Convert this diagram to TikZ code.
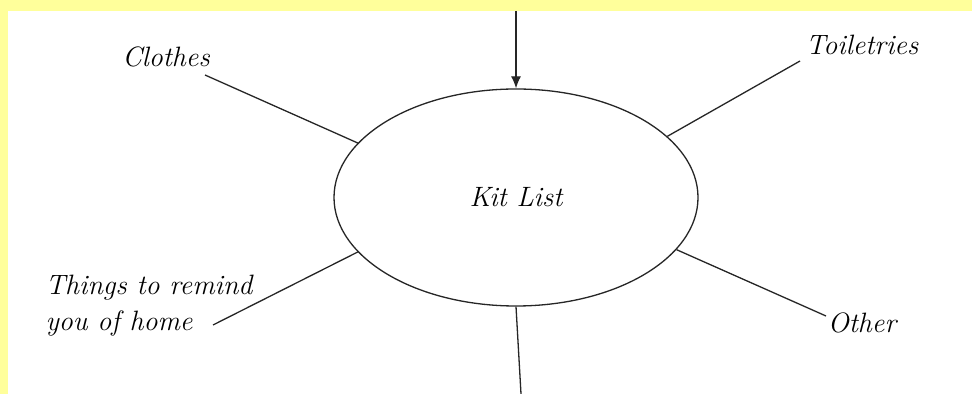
\documentclass[tikz,border=0pt]{standalone}
\usepackage{tikz}
\usetikzlibrary{arrows.meta,shapes.geometric}
\definecolor{Y}{RGB}{255, 255, 155}

\begin{document}
\begin{tikzpicture}[x=0.5pt,y=-0.5pt,
    hand/.style={font=\fontsize{14}{18}\selectfont\itshape},
    spoke/.style={line width=0.65pt, color=black!85}]
    %Fondo amarillo y hoja blanca
    \fill[color=Y] (0,0) rectangle (972,394);
    \fill[color=white] (8,11) rectangle (972,394);
    \useasboundingbox (0,0) rectangle (972,394);

    %Elipse central
    \node[ellipse, draw, spoke, minimum width=182pt, minimum height=108.5pt, hand, text=black] (kit) at (516,197.5) {Kit List\hspace{12pt}};

    %Extremos libres
    \coordinate (top) at (516,11);
    \coordinate (bot) at (521,394);
    \coordinate (clo) at (205,75);
    \coordinate (toi) at (800,61);
    \coordinate (hom) at (213,325);
    \coordinate (oth) at (826,316);

    %Etiquetas
    \node[hand] (clothes) at (166,57) {Clothes};
    \node[hand] (toiletries) at (862,45) {Toiletries};
    \node[hand, align=left] (home) at (149,306) {Things to remind\\you of home};
    \node[hand] (other) at (862,323) {Other};

    %Lineas
    \draw[spoke,-{Latex[length=6pt,width=5pt]}] (top) -- (kit.north);
    \draw[spoke] (kit.south) -- (bot);
    \draw[spoke] (clo) -- (kit.161);
    \draw[spoke] (toi) -- (kit.22);
    \draw[spoke] (hom) -- (kit.199);
    \draw[spoke] (oth) -- (kit.342);
\end{tikzpicture}
\end{document}
